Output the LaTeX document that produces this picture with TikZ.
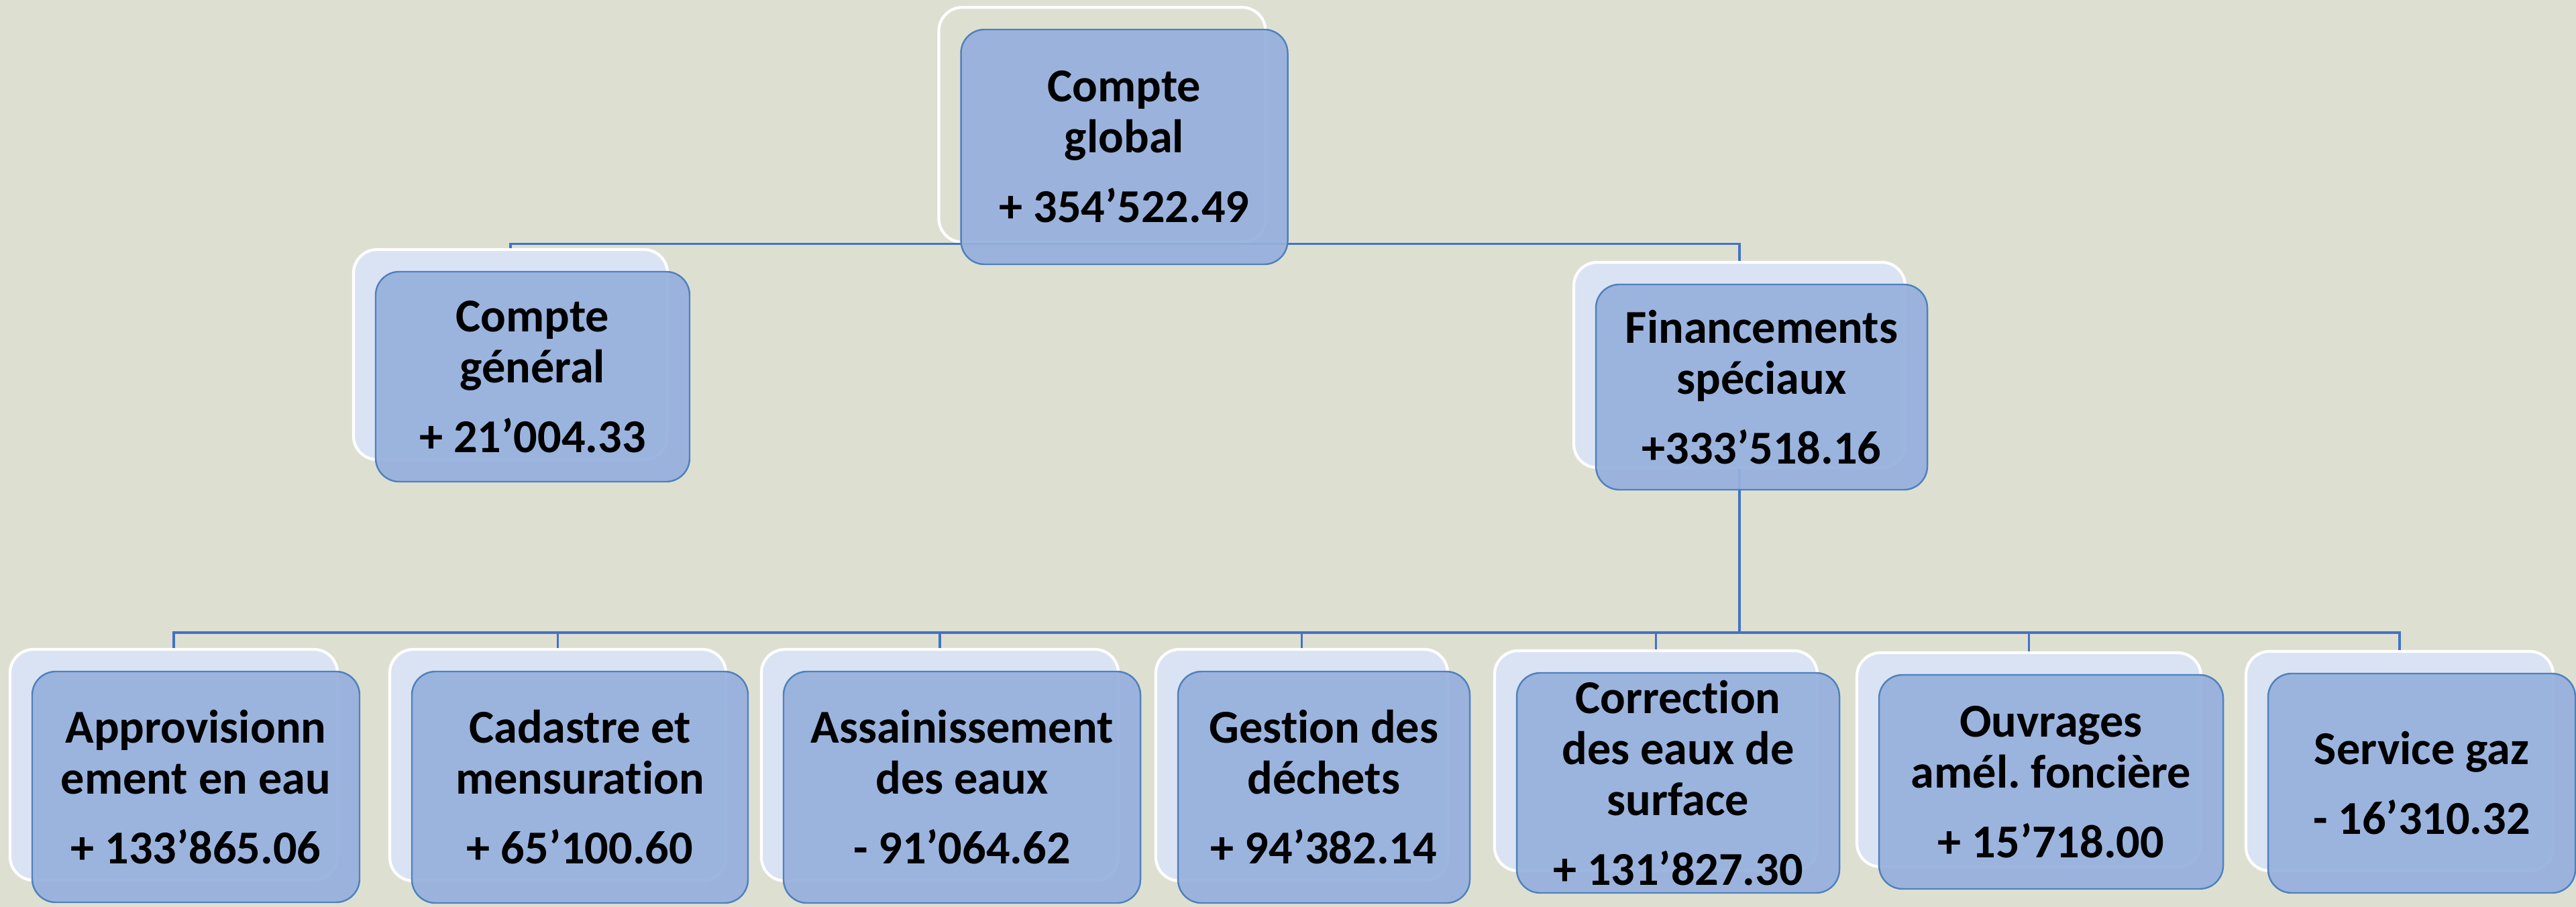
\documentclass[tikz,border=0pt]{standalone}
\usepackage{fontspec}
\setmainfont{Carlito}[Ligatures = NoCommon]
\usepackage{tikz}
\frenchspacing

\definecolor{paper}{RGB}{221,224,209}
\definecolor{cardfill}{RGB}{150,176,221}
\definecolor{cardline}{RGB}{79,129,189}
\definecolor{backfill}{RGB}{218,227,243}
\definecolor{linkcol}{RGB}{68,114,196}

\begin{document}
\begin{tikzpicture}

  \tikzstyle{acct} = [rectangle, rounded corners = 3.5mm, draw = cardline, line width = 0.7pt, fill = cardfill, fill opacity = 0.92, text opacity = 1, inner sep = 0pt, align = center, font = \fontsize{20}{21.6}\selectfont\bfseries]
    \tikzstyle{acctback} = [rectangle, rounded corners = 3.5mm, draw = white, line width = 1.2pt, fill = backfill]
    \tikzstyle{branch} = [draw = linkcol, line width = 0.9pt]

    \fill[paper] (0,0) rectangle (38.4,-13.52);
    \useasboundingbox (0,0) rectangle (38.4,-13.52);

    \node[acctback, fill = none, minimum width = 4.87cm, minimum height = 3.5cm] (b0) at (16.43,-1.86) {};
    \node[acctback, minimum width = 4.68cm, minimum height = 3.13cm] (bG) at (7.61,-5.285) {};
    \node[acctback, minimum width = 4.94cm, minimum height = 3.06cm] (bS) at (25.93,-5.44) {};

    \node[acctback, minimum width = 4.88cm, minimum height = 3.44cm] (b1) at (2.59,-11.40) {};
    \node[acctback, minimum width = 5.01cm, minimum height = 3.45cm] (b2) at (8.315,-11.405) {};
    \node[acctback, minimum width = 5.32cm, minimum height = 3.45cm] (b3) at (14.01,-11.405) {};
    \node[acctback, minimum width = 4.35cm, minimum height = 3.45cm] (b4) at (19.405,-11.405) {};
    \node[acctback, minimum width = 4.81cm, minimum height = 3.28cm] (b5) at (24.685,-11.34) {};
    \node[acctback, minimum width = 5.13cm, minimum height = 3.19cm] (b6) at (30.245,-11.325) {};
    \node[acctback, minimum width = 4.58cm, minimum height = 3.27cm] (b7) at (35.77,-11.345) {};

    \coordinate (bus) at (0,-9.43);
    \draw[branch] (b0.south) -| (bG.north);
    \draw[branch] (b0.south) -| (bS.north);
    \draw[branch] (bS.south) -- (bS.south |- bus) -| (b1.north);
    \draw[branch] (bS.south |- bus) -| (b2.north);
    \draw[branch] (bS.south |- bus) -| (b3.north);
    \draw[branch] (bS.south |- bus) -| (b4.north);
    \draw[branch] (bS.south |- bus) -| (b5.north);
    \draw[branch] (bS.south |- bus) -| (b6.north);
    \draw[branch] (bS.south |- bus) -| (b7.north);

    \node[acct, minimum width = 4.87cm, minimum height = 3.5cm] (f0) at ([shift = {(0.33,-0.33)}] b0.center) {Compte\\global\\[8pt]+ 354’522.49};
    \node[acct, minimum width = 4.68cm, minimum height = 3.13cm] (fG) at ([shift = {(0.33,-0.33)}] bG.center) {Compte\\général\\[8pt]+ 21’004.33};
    \node[acct, minimum width = 4.94cm, minimum height = 3.06cm] (fS) at ([shift = {(0.33,-0.33)}] bS.center) {Financements\\spéciaux\\[8pt]+333’518.16};

    \node[acct, minimum width = 4.88cm, minimum height = 3.44cm] (f1) at ([shift = {(0.33,-0.33)}] b1.center) {Approvisionn\\ement en eau\\[8pt]+ 133’865.06};
    \node[acct, minimum width = 5.01cm, minimum height = 3.45cm] (f2) at ([shift = {(0.33,-0.33)}] b2.center) {Cadastre et\\mensuration\\[8pt]+ 65’100.60};
    \node[acct, minimum width = 5.32cm, minimum height = 3.45cm] (f3) at ([shift = {(0.33,-0.33)}] b3.center) {Assainissement\\des eaux\\[8pt]- 91’064.62};
    \node[acct, minimum width = 4.35cm, minimum height = 3.45cm] (f4) at ([shift = {(0.33,-0.33)}] b4.center) {Gestion des\\déchets\\[8pt]+ 94’382.14};
    \node[acct, minimum width = 4.81cm, minimum height = 3.28cm] (f5) at ([shift = {(0.33,-0.33)}] b5.center) {Correction\\des eaux de\\surface\\[8pt]+ 131’827.30};
    \node[acct, minimum width = 5.13cm, minimum height = 3.19cm] (f6) at ([shift = {(0.33,-0.33)}] b6.center) {Ouvrages\\amél. foncière\\[8pt]+ 15’718.00};
    \node[acct, minimum width = 4.58cm, minimum height = 3.27cm] (f7) at ([shift = {(0.33,-0.33)}] b7.center) {Service gaz\\[8pt]- 16’310.32};
\end{tikzpicture}
\end{document}
